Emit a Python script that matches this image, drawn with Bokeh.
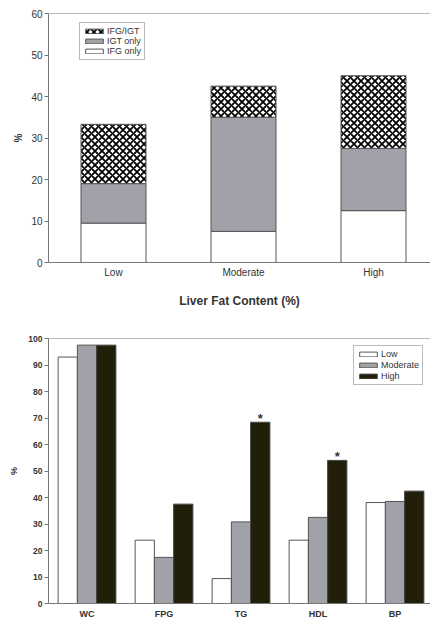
from bokeh.plotting import figure
from bokeh.models import (Range1d, FixedTicker, Span, Legend, LegendItem,
                          ColumnDataSource)
from bokeh.layouts import column
from bokeh.embed import file_html
from bokeh.resources import INLINE
from bokeh.core.properties import value
from bokeh.transform import dodge

# ---------------- data ----------------
fat_levels = ["Low", "Moderate", "High"]
ifg_only = [9.5, 7.5, 12.5]
igt_only = [9.5, 27.5, 15.0]
ifg_igt = [14.3, 7.5, 17.5]
top_yticks = [0, 10, 20, 30, 40, 50, 60]

components = ["WC", "FPG", "TG", "HDL", "BP"]
low = [93.0, 23.9, 9.4, 23.9, 38.1]
moderate = [97.5, 17.4, 30.8, 32.5, 38.5]
high = [97.5, 37.5, 68.4, 54.0, 42.4]
high_sig = ["", "", "*", "*", ""]
bottom_yticks = [0, 10, 20, 30, 40, 50, 60, 70, 80, 90, 100]

FONT = "Liberation Sans"
GRAY = "#a1a1a9"
DARK = "#211f0a"
AXC = "#777777"
TXT = "#333333"


def style_axes(p):
    p.xgrid.visible = False
    p.ygrid.visible = False
    p.outline_line_color = None
    p.background_fill_color = "white"
    for ax in (p.xaxis[0], p.yaxis[0]):
        ax.axis_line_color = AXC
        ax.major_tick_line_color = AXC
        ax.minor_tick_line_color = None
        ax.major_label_text_color = TXT
        ax.major_label_text_font = FONT
        ax.axis_label_text_font = FONT
        ax.axis_label_text_color = TXT
    p.xaxis.major_tick_in = 0
    p.xaxis.major_tick_out = 0
    p.yaxis.major_tick_in = 0
    p.yaxis.major_tick_out = 4


# ---------------- top chart ----------------
xt = [i + 0.5 for i in range(len(fat_levels))]
src_top = ColumnDataSource(dict(x=xt, ifg=ifg_only, igt=igt_only, both=ifg_igt))

p1 = figure(width=430, height=310, output_backend="svg", toolbar_location=None,
            x_range=Range1d(0, 382 / 130), y_range=Range1d(0, 60),
            min_border_top=13, min_border_left=48, min_border_right=0,
            min_border_bottom=47)
style_axes(p1)

rs = p1.vbar_stack(["ifg", "igt", "both"], x="x", width=0.5, source=src_top,
                   fill_color=["white", GRAY, "white"],
                   line_color=["#555555", "#555555", "#555555"],
                   line_width=1,
                   hatch_pattern=[" ", " ", "diagonal_cross"],
                   hatch_color=["black", "black", "black"],
                   hatch_scale=[7, 7, 7], hatch_weight=[1.8, 1.8, 1.8])

p1.xaxis.ticker = FixedTicker(ticks=xt)
p1.xaxis.major_label_overrides = {x: lab for x, lab in zip(xt, fat_levels)}
p1.xaxis.major_label_text_font_size = "10px"
p1.xaxis.major_label_standoff = 4
p1.xaxis.axis_label = "Liver Fat Content (%)"
p1.xaxis.axis_label_text_font_size = "12px"
p1.xaxis.axis_label_text_font_style = "bold"
p1.xaxis.axis_label_standoff = 13

p1.yaxis.ticker = FixedTicker(ticks=top_yticks)
p1.yaxis.major_label_text_font_size = "10px"
p1.yaxis.major_label_standoff = 2
p1.yaxis.axis_label = "%"
p1.yaxis.axis_label_text_font_size = "10px"
p1.yaxis.axis_label_text_font_style = "bold"
p1.yaxis.axis_label_standoff = 4

p1.add_layout(Span(location=60, dimension="width", line_color=AXC, line_width=1))

leg1 = Legend(items=[LegendItem(label="IFG/IGT", renderers=[rs[2]]),
                     LegendItem(label="IGT only", renderers=[rs[1]]),
                     LegendItem(label="IFG only", renderers=[rs[0]])],
              location=(31, 202), glyph_width=22, glyph_height=6,
              label_text_font_size="9px", label_text_font=FONT,
              label_text_color=TXT, label_height=9, label_standoff=2,
              spacing=0, padding=3, margin=0, border_line_color=AXC,
              border_line_width=1, background_fill_alpha=1)
p1.add_layout(leg1)

# ---------------- bottom chart ----------------
xb = [i + 0.5 for i in range(len(components))]
src_b = ColumnDataSource(dict(x=xb, low=low, moderate=moderate, high=high,
                              sig=high_sig))

p2 = figure(width=430, height=311, output_backend="svg", toolbar_location=None,
            x_range=Range1d(0, 382 / 77), y_range=Range1d(0, 100),
            min_border_top=28, min_border_left=48, min_border_right=0,
            min_border_bottom=18)
style_axes(p2)

r_low = p2.vbar(x=dodge("x", -0.25, range=p2.x_range), top="low", width=0.25,
                source=src_b, fill_color="white", line_color="#555555")
r_mod = p2.vbar(x=dodge("x", 0.0, range=p2.x_range), top="moderate", width=0.25,
                source=src_b, fill_color=GRAY, line_color="#555555")
r_high = p2.vbar(x=dodge("x", 0.25, range=p2.x_range), top="high", width=0.25,
                 source=src_b, fill_color=DARK, line_color="#444444")
p2.text(x=dodge("x", 0.25, range=p2.x_range), y="high", text="sig", source=src_b,
        text_align="center", text_baseline="alphabetic", y_offset=-4,
        text_font=value(FONT), text_font_size="13px", text_font_style="bold",
        text_color=TXT)

p2.xaxis.ticker = FixedTicker(ticks=xb)
p2.xaxis.major_label_overrides = {x: lab for x, lab in zip(xb, components)}
p2.xaxis.major_label_text_font_size = "9px"
p2.xaxis.major_label_text_font_style = "bold"
p2.xaxis.major_label_standoff = 5

p2.yaxis.ticker = FixedTicker(ticks=bottom_yticks)
p2.yaxis.major_label_text_font_size = "8.5px"
p2.yaxis.major_label_text_font_style = "bold"
p2.yaxis.major_label_standoff = 2
p2.yaxis.axis_label = "%"
p2.yaxis.axis_label_text_font_size = "9px"
p2.yaxis.axis_label_text_font_style = "bold"
p2.yaxis.axis_label_standoff = 6

p2.add_layout(Span(location=100, dimension="width", line_color=AXC, line_width=1))

leg2 = Legend(items=[LegendItem(label="Low", renderers=[r_low]),
                     LegendItem(label="Moderate", renderers=[r_mod]),
                     LegendItem(label="High", renderers=[r_high])],
              location=(305, 218), glyph_width=22, glyph_height=6,
              label_text_font_size="9px", label_text_font=FONT,
              label_text_color=TXT, label_height=10, label_standoff=2,
              spacing=1, padding=3, margin=0, border_line_color=AXC,
              border_line_width=1, background_fill_alpha=1)
p2.add_layout(leg2)

layout = column(p1, p2, spacing=0)
open("out.html", "w").write(file_html(layout, INLINE))
